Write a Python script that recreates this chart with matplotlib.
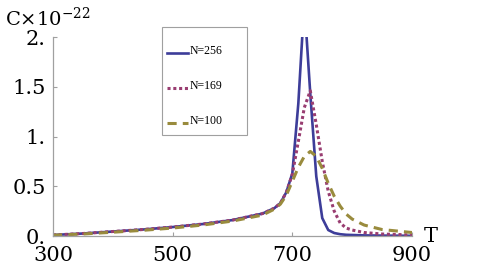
import matplotlib
matplotlib.use("Agg")
import matplotlib.pyplot as plt
import matplotlib.transforms as mtransforms
from matplotlib.patches import Rectangle

T = [300, 350, 400, 450, 500, 550, 600, 650, 670, 680, 690, 700, 710, 720,
     730, 740, 750, 760, 770, 780, 790, 800, 820, 850, 900]
C_256 = [0.01, 0.025, 0.045, 0.065, 0.09, 0.12, 0.16, 0.225, 0.28, 0.33, 0.44,
         0.63, 1.33, 2.35, 1.43, 0.6, 0.18, 0.06, 0.03, 0.018, 0.012, 0.01,
         0.006, 0.004, 0.002]
C_169 = [0.01, 0.025, 0.045, 0.065, 0.09, 0.12, 0.16, 0.225, 0.28, 0.33, 0.44,
         0.62, 0.95, 1.29, 1.46, 1.12, 0.75, 0.45, 0.25, 0.13, 0.08, 0.06,
         0.035, 0.02, 0.01]
C_100 = [0.008, 0.02, 0.038, 0.057, 0.08, 0.11, 0.15, 0.21, 0.27, 0.32, 0.41,
         0.55, 0.69, 0.8, 0.85, 0.8, 0.68, 0.53, 0.4, 0.3, 0.22, 0.17, 0.11,
         0.065, 0.035]
labels = ["N=256", "N=169", "N=100"]
xticks = [300, 500, 700, 900]
yticks = [0, 0.5, 1.0, 1.5, 2.0]
yticklabels = ["0.", "0.5", "1.", "1.5", "2."]

plt.rcParams['font.family'] = ['DejaVu Serif']
plt.rcParams['mathtext.fontset'] = 'dejavuserif'

W, H = 491, 273
fig = plt.figure(figsize=(W/100, H/100), dpi=100)
ax = fig.add_axes([53/W, 1-236/H, (412-53)/W, (236-37)/H])

ax.plot(T, C_256, color='#3d3d99', lw=1.9, label=labels[0])
ax.plot(T, C_169, color='#993d71', lw=2.2, linestyle=(0, (1, 0.9)), label=labels[1])
ax.plot(T, C_100, color='#998b3d', lw=2.2, linestyle=(0, (3, 2)), label=labels[2])

ax.set_xlim(300, 900)
ax.set_ylim(0, 2.0)
ax.set_xticks(xticks)
ax.set_yticks(yticks)
ax.set_yticklabels(yticklabels)
for s in ['top', 'right']:
    ax.spines[s].set_visible(False)
for s in ['left', 'bottom']:
    ax.spines[s].set_color('#a0a0a0')
    ax.spines[s].set_linewidth(0.9)
ax.tick_params(direction='in', length=3, width=0.8, color='#a0a0a0',
               labelsize=15)
ax.tick_params(axis='y', pad=5)
ax.tick_params(axis='x', pad=7)

fig.text(5/W, 1-26/H, r'C$\times$10$^{-22}$', fontsize=14, ha='left', va='baseline')
fig.text(431/W, 1-236/H, 'T', fontsize=15, ha='center', va='center')

# legend frame
frame = Rectangle((162/W, 1-135/H), (247-162)/W, (135-27)/H,
                  transform=fig.transFigure, facecolor='white',
                  edgecolor='#a0a0a0', linewidth=0.8, zorder=4, clip_on=False)
ax.add_patch(frame)
leg = ax.legend(loc='upper left', bbox_to_anchor=(162/W, 1-40/H),
                bbox_transform=fig.transFigure,
                prop={'family': 'Liberation Serif', 'size': 8.5},
                handlelength=1.8, handleheight=3.3, handletextpad=0.15,
                labelspacing=0.55, borderpad=0.4, borderaxespad=0,
                frameon=False)
leg.set_zorder(5)
for t in leg.get_texts():
    t.set_transform(t.get_transform() + mtransforms.Affine2D().translate(0, 8))

fig.savefig('out.png', dpi=100)
